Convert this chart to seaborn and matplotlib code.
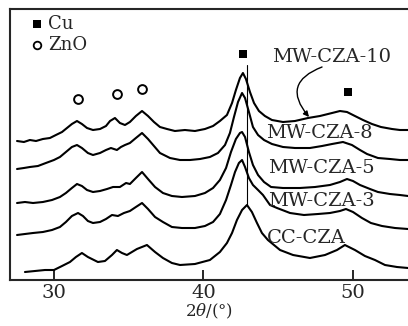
import pandas as pd
import matplotlib
matplotlib.use("Agg")
import matplotlib.pyplot as plt
import seaborn as sns

# XRD patterns (2theta in degrees, intensity in arbitrary units, offset per sample)
samples = ["MW-CZA-10", "MW-CZA-8", "MW-CZA-5", "MW-CZA-3", "CC-CZA"]

tt_mw10 = [27.53, 27.99, 28.39, 28.80, 29.26, 29.73, 30.13, 30.54, 30.87, 31.20, 31.54, 31.87, 32.21,
           32.61, 33.08, 33.48, 33.75, 34.08, 34.41, 34.75, 35.08, 35.48, 35.89, 36.29, 36.69, 37.09,
           37.56, 38.09, 38.76, 39.43, 40.10, 40.64, 41.10, 41.57, 41.91, 42.17, 42.44, 42.64, 42.84,
           43.11, 43.38, 43.71, 44.11, 44.58, 45.32, 46.12, 46.99, 47.79, 48.60, 49.13, 49.60, 50.13,
           50.67, 51.27, 51.87, 52.61, 53.14, 53.68]
int_mw10 = [139, 138, 140, 139, 141, 142, 145, 148, 152, 156, 159, 156, 152,
            150, 151, 154, 159, 162, 157, 155, 158, 164, 169, 164, 158, 153,
            151, 149, 150, 149, 151, 154, 159, 165, 177, 190, 202, 207, 201,
            188, 177, 169, 164, 160, 158, 159, 162, 164, 167, 169, 168, 164,
            160, 156, 153, 151, 150, 150]

tt_mw8 = [27.53, 27.99, 28.39, 28.93, 29.46, 30.00, 30.40, 30.80, 31.20, 31.54, 31.87, 32.27, 32.61,
          33.08, 33.48, 33.81, 34.21, 34.48, 34.75, 35.08, 35.48, 35.89, 36.29, 36.69, 37.09, 37.76,
          38.43, 39.10, 39.77, 40.43, 40.97, 41.44, 41.77, 42.04, 42.31, 42.58, 42.78, 43.04, 43.31,
          43.65, 44.05, 44.58, 45.32, 46.12, 47.12, 47.93, 48.60, 49.33, 49.93, 50.47, 50.94, 51.67,
          52.47, 53.14, 53.68]
int_mw8 = [111, 112, 113, 114, 117, 120, 123, 128, 133, 135, 132, 127, 125,
           127, 130, 132, 130, 133, 135, 137, 142, 147, 141, 134, 127, 122,
           120, 120, 121, 123, 127, 135, 147, 163, 178, 187, 182, 168, 153,
           145, 140, 136, 133, 132, 132, 134, 136, 138, 135, 130, 126, 122,
           121, 120, 120]

tt_mw5 = [27.53, 28.06, 28.60, 29.26, 29.87, 30.40, 30.80, 31.20, 31.54, 31.87, 32.21, 32.61, 33.08,
          33.55, 33.95, 34.41, 34.82, 35.08, 35.48, 35.89, 36.29, 36.76, 37.29, 37.89, 38.56, 39.43,
          40.10, 40.64, 41.10, 41.51, 41.84, 42.17, 42.44, 42.58, 42.78, 43.04, 43.31, 43.65, 44.05,
          44.52, 45.32, 46.45, 47.46, 48.46, 49.13, 49.60, 50.00, 50.47, 51.14, 51.67, 52.47, 53.14,
          53.68]
int_mw5 = [77, 78, 77, 78, 80, 83, 87, 92, 96, 94, 90, 88, 89,
           91, 93, 93, 97, 96, 102, 108, 101, 93, 87, 84, 83, 84,
           87, 92, 100, 112, 128, 141, 147, 148, 143, 128, 115, 105, 98,
           93, 92, 92, 93, 95, 98, 101, 99, 95, 91, 88, 86, 85,
           84]

tt_mw3 = [27.53, 28.06, 28.60, 29.26, 29.87, 30.40, 30.80, 31.20, 31.61, 31.94, 32.27, 32.61, 33.08,
          33.48, 33.88, 34.28, 34.68, 35.08, 35.48, 35.89, 36.29, 36.76, 37.29, 37.89, 38.56, 39.43,
          40.10, 40.64, 41.10, 41.51, 41.84, 42.11, 42.37, 42.58, 42.78, 43.04, 43.31, 43.65, 43.98,
          44.45, 44.92, 45.79, 46.72, 47.66, 48.46, 49.13, 49.53, 50.00, 50.60, 51.20, 51.94, 52.81,
          53.68]
int_mw3 = [45, 46, 47, 48, 50, 53, 58, 64, 67, 64, 59, 57, 58,
           61, 65, 64, 67, 69, 73, 77, 71, 63, 58, 53, 52, 52,
           54, 58, 66, 80, 95, 108, 117, 120, 113, 102, 95, 90, 85,
           75, 72, 67, 65, 66, 67, 69, 71, 68, 62, 57, 54, 52,
           51]

tt_cc = [28.06, 28.73, 29.40, 30.00, 30.54, 31.07, 31.47, 31.87, 32.27, 32.94, 33.41, 33.88, 34.21,
         34.55, 34.88, 35.55, 36.22, 36.76, 37.29, 37.89, 38.43, 39.43, 40.43, 41.10, 41.57, 41.91,
         42.24, 42.58, 42.91, 43.24, 43.58, 43.91, 44.31, 45.12, 45.99, 47.12, 48.13, 48.93, 49.46,
         50.13, 50.80, 51.47, 52.14, 52.94, 53.68]
int_cc = [8, 9, 10, 10, 14, 18, 23, 27, 23, 18, 19, 25, 30,
          27, 25, 31, 35, 28, 22, 17, 15, 16, 20, 28, 37, 47,
          60, 70, 75, 68, 57, 47, 40, 30, 25, 22, 25, 30, 35,
          30, 24, 20, 15, 13, 12]

# phase markers
cu_x = [42.64, 49.67]
cu_y = [226, 188]
zno_x = [31.61, 34.21, 35.89]
zno_y = [181, 186, 191]

frames = []
for name, tt, inten in zip(samples,
                           [tt_mw10, tt_mw8, tt_mw5, tt_mw3, tt_cc],
                           [int_mw10, int_mw8, int_mw5, int_mw3, int_cc]):
    frames.append(pd.DataFrame({"two_theta": tt, "intensity": inten, "sample": name}))
df = pd.concat(frames, ignore_index=True)

sns.set_style("ticks")
plt.rcParams['font.family'] = ['DejaVu Serif']
plt.rcParams['mathtext.fontset'] = 'dejavuserif'

fig = plt.figure(figsize=(4.08, 3.26), dpi=100)
ax = fig.add_axes([10 / 408, 46 / 326, 398 / 408, 271 / 326])

sns.lineplot(data=df, x="two_theta", y="intensity", hue="sample", units="sample",
             estimator=None, sort=False, palette=["black"] * 5, legend=False,
             linewidth=1.5, ax=ax)

# Cu reference line
ax.plot([42.91, 42.91], [75, 215], color="black", lw=0.8)

sns.scatterplot(x=cu_x, y=cu_y, marker="s", color="black", s=40, linewidth=0, ax=ax)
sns.scatterplot(x=zno_x, y=zno_y, marker="o", facecolor="white", edgecolor="black",
                s=40, linewidth=1.4, ax=ax)

# legend drawn by hand like the original
ax.scatter([28.86], [256], marker="s", color="black", s=30, linewidth=0)
ax.scatter([28.86], [235], marker="o", facecolor="white", edgecolor="black", s=30, linewidth=1.3)
ax.text(29.6, 256, "Cu", fontsize=13, va="center", ha="left")
ax.text(29.6, 235, "ZnO", fontsize=13, va="center", ha="left")

# sample labels
ax.text(44.58, 223, "MW-CZA-10", fontsize=14, va="center", ha="left")
ax.text(44.18, 147, "MW-CZA-8", fontsize=14, va="center", ha="left")
ax.text(44.31, 112, "MW-CZA-5", fontsize=14, va="center", ha="left")
ax.text(44.31, 79, "MW-CZA-3", fontsize=14, va="center", ha="left")
ax.text(44.25, 42, "CC-CZA", fontsize=14, va="center", ha="left")
ax.annotate("", xy=(47.06, 163), xytext=(47.93, 213),
            arrowprops=dict(arrowstyle="-|>", color="black", lw=1.0, mutation_scale=8,
                            connectionstyle="arc3,rad=0.7", shrinkA=0, shrinkB=0))

ax.set_xlim(27.06, 53.68)
ax.set_ylim(0, 271)
ax.set_xticks([30, 40, 50])
ax.set_yticks([])
ax.set_xlabel(r"$2\theta$/(°)", fontsize=12, labelpad=0)
ax.set_ylabel("")
ax.tick_params(axis="x", direction="in", length=7, width=1.4, labelsize=14, pad=3)
for side in ["left", "bottom", "top"]:
    ax.spines[side].set_linewidth(1.5)
ax.spines["right"].set_visible(False)

plt.savefig("out.png", dpi=100)
